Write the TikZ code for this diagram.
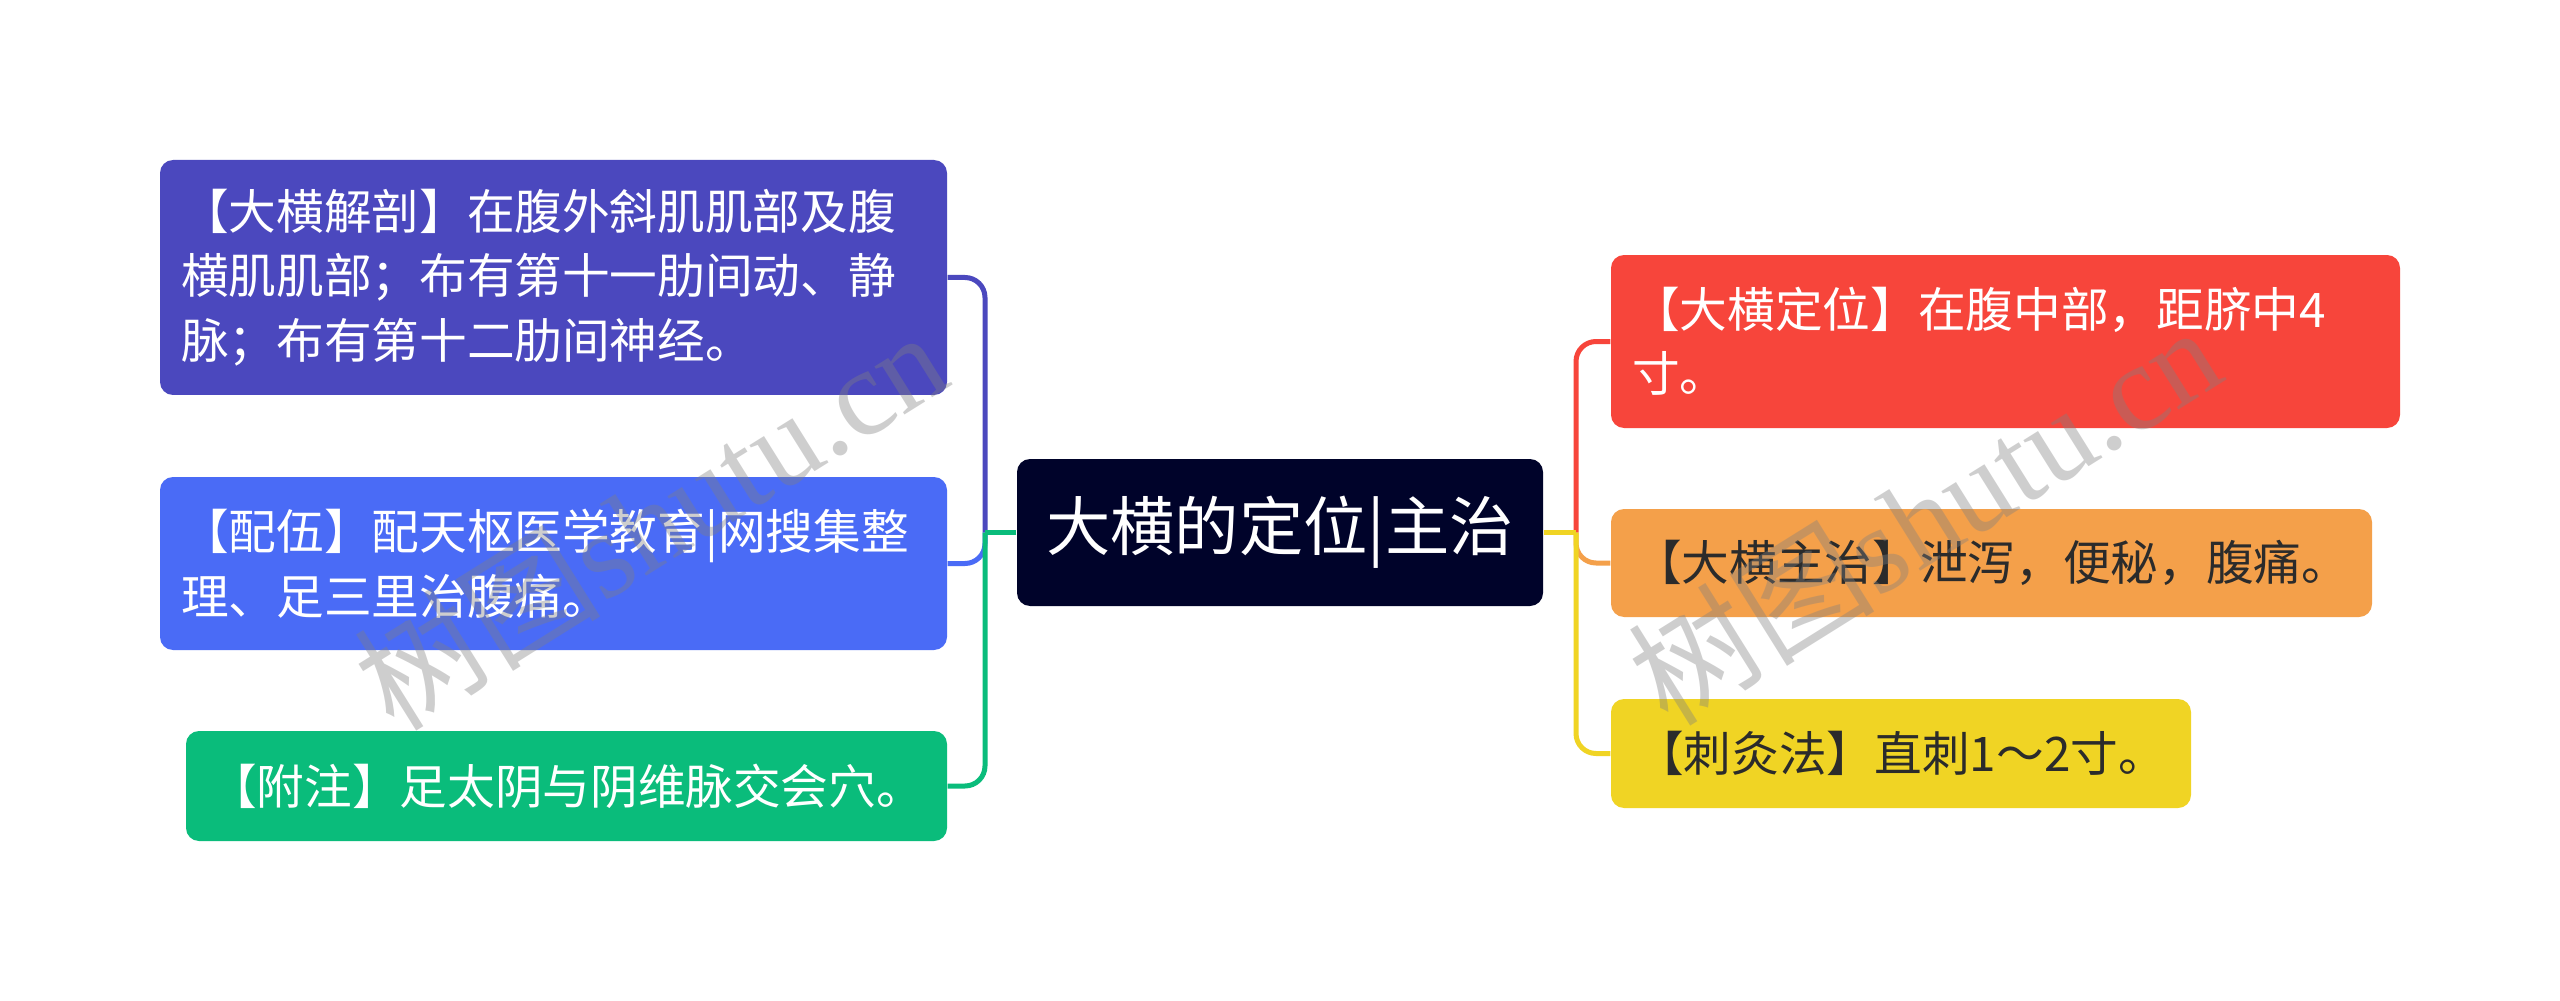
\documentclass[tikz,border=0pt]{standalone}
\usepackage{fontspec}
\setmainfont{Noto Sans CJK SC}
\newfontfamily\wmserif{Liberation Serif}
\definecolor{cA}{HTML}{4B48BE}
\definecolor{cB}{HTML}{4A6BF6}
\definecolor{cC}{HTML}{0ABC7B}
\definecolor{cD}{HTML}{F7453B}
\definecolor{cE}{HTML}{F4A04A}
\definecolor{cF}{HTML}{F0D424}
\definecolor{cRoot}{HTML}{00032A}
\definecolor{darktext}{HTML}{2B2B2B}
\begin{document}
\begin{tikzpicture}[x=0.3pt,y=-0.3pt,
  box/.style={rounded corners=3.9pt, inner sep=0pt, text=white, align=left,
    font=\fontsize{14.3}{19.35}\selectfont},
  rootbox/.style={rounded corners=3.9pt, inner sep=0pt, text=white, fill=cRoot,
    font=\fontsize{19.3}{22}\selectfont, minimum width=157.8pt, minimum height=44.1pt},
  link/.style={line width=1.5pt, rounded corners=6pt},
  wm/.style={text=black!50, opacity=0.38, font=\fontsize{37}{37}\selectfont}]
\useasboundingbox[fill=white] (0,0) rectangle (2560,1001);

% root
\node[rootbox] (root) at (1280,532.5) {大横的定位|主治};

% left children
\node[box, fill=cA, minimum width=236.1pt, minimum height=70.5pt, text width=223.5pt] (A) at (553.5,277.5)
  {【大横解剖】在腹外斜肌肌部及腹\\横肌肌部；布有第十一肋间动、静\\脉；布有第十二肋间神经。};
\node[box, fill=cB, minimum width=236.1pt, minimum height=51.9pt, text width=223.5pt] (B) at (553.5,563.5)
  {【配伍】配天枢医学教育|网搜集整\\理、足三里治腹痛。};
\node[box, fill=cC, minimum width=228.3pt, minimum height=33pt, align=center] (C) at (566.5,786)
  {【附注】足太阴与阴维脉交会穴。};

% right children
\node[box, fill=cD, minimum width=236.7pt, minimum height=51.9pt, text width=224.1pt] (D) at (2005.5,341.5)
  {【大横定位】在腹中部，距脐中4\\寸。};
\node[box, fill=cE, text=darktext, minimum width=228.3pt, minimum height=32.4pt, align=center] (E) at (1991.5,563)
  {【大横主治】泄泻，便秘，腹痛。};
\node[box, fill=cF, text=darktext, minimum width=174pt, minimum height=32.7pt, align=center] (F) at (1901,753.5)
  {【刺灸法】直刺1～2寸。};

% junctions
\coordinate (L) at (985,532.5);
\coordinate (R) at (1576,532.5);

% left connectors
\draw[link, cA] (A.east) -| (L);
\draw[link, cB] (B.east) -| (L);
\draw[link, cC] (L) |- (C.east);
\draw[link, cC] (root.west) -- (L);

% right connectors
\draw[link, cD] (R) |- (D.west);
\draw[link, cE] (R) |- (E.west);
\draw[link, cF] (R) |- (F.west);
\draw[link, cF] (root.east) -- (R);

% watermarks
\node[wm, rotate=32] (wm1) at (650,519) {树图{\wmserif shutu.cn}};
\node[wm, rotate=32] (wm2) at (1924,514) {树图{\wmserif shutu.cn}};
\end{tikzpicture}
\end{document}
